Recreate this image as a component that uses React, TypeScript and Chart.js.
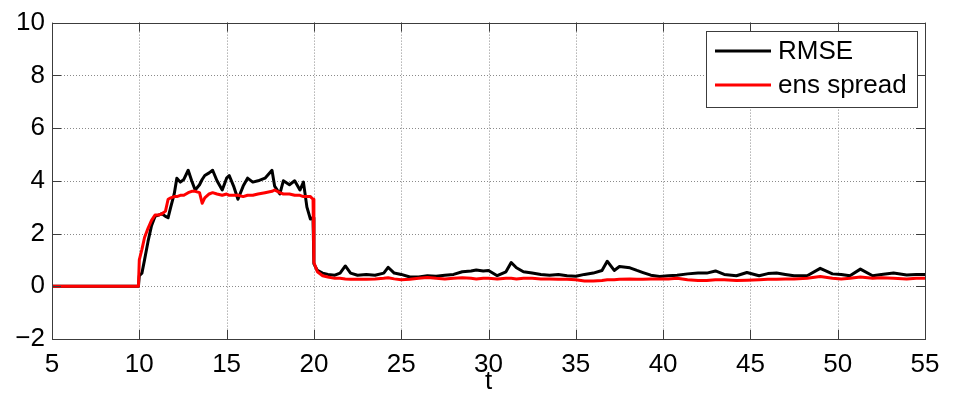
import React, { useEffect, useRef } from 'react';
import { Chart, registerables } from 'chart.js';

Chart.register(...registerables);

const timeValues = [
  5, 9.95, 10.0, 10.15, 10.3, 10.5, 10.7, 10.9, 11.1, 11.3,
  11.5, 11.65, 11.8, 12.0, 12.15, 12.35, 12.55, 12.8, 13.0, 13.2,
  13.45, 13.6, 13.75, 14.0, 14.2, 14.45, 14.75, 15.0, 15.15, 15.4,
  15.65, 15.95, 16.2, 16.5, 16.8, 17.2, 17.6, 17.75, 18.05, 18.25,
  18.6, 18.9, 19.2, 19.4, 19.6, 19.8, 19.95, 20.0, 20.2, 20.5,
  20.8, 21.2, 21.5, 21.8, 22.1, 22.5, 23.0, 23.5, 24.0, 24.25,
  24.6, 25.0, 25.5, 26.0, 26.5, 27.0, 27.5, 28.0, 28.5, 29.0,
  29.3, 29.7, 30.0, 30.5, 31.0, 31.3, 31.6, 32.0, 32.5, 33.0,
  33.5, 34.0, 34.5, 35.0, 35.5, 36.0, 36.5, 36.8, 37.2, 37.5,
  38.1, 38.5, 38.85, 39.3, 39.8, 40.3, 40.8, 41.4, 42.0, 42.5,
  43.0, 43.5, 44.2, 44.8, 45.5, 46.0, 46.5, 47.0, 47.5, 48.25,
  49.0, 49.7, 50.2, 50.7, 51.3, 52.0, 52.5, 53.2, 53.95, 54.5,
  55.0,
];

const rmseValues = [
  0, 0, 0.4, 0.5, 1.0, 1.7, 2.3, 2.65, 2.7, 2.75,
  2.65, 2.6, 3.0, 3.5, 4.1, 3.95, 4.05, 4.4, 4.0, 3.65,
  3.85, 4.05, 4.2, 4.3, 4.4, 4.0, 3.65, 4.1, 4.2, 3.8,
  3.3, 3.8, 4.1, 3.95, 4.0, 4.1, 4.4, 3.8, 3.5, 4.0,
  3.85, 4.0, 3.65, 3.95, 3.0, 2.55, 2.6, 0.85, 0.6, 0.5,
  0.45, 0.42, 0.5, 0.77, 0.5, 0.42, 0.45, 0.42, 0.5, 0.72,
  0.5, 0.45, 0.35, 0.35, 0.4, 0.38, 0.42, 0.45, 0.55, 0.58,
  0.62, 0.58, 0.6, 0.4, 0.55, 0.9, 0.7, 0.55, 0.5, 0.45,
  0.42, 0.45, 0.4, 0.38, 0.45, 0.5, 0.6, 0.95, 0.6, 0.75,
  0.7, 0.6, 0.52, 0.42, 0.37, 0.4, 0.42, 0.47, 0.5, 0.5,
  0.58, 0.45, 0.4, 0.52, 0.4, 0.48, 0.5, 0.45, 0.4, 0.4,
  0.68, 0.47, 0.45, 0.4, 0.65, 0.4, 0.45, 0.5, 0.43, 0.45,
  0.45,
];

const spreadValues = [
  0, 0, 1.0, 1.4, 1.85, 2.2, 2.5, 2.7, 2.7, 2.75,
  2.85, 3.3, 3.35, 3.4, 3.4, 3.45, 3.45, 3.55, 3.6, 3.6,
  3.55, 3.15, 3.35, 3.5, 3.55, 3.5, 3.45, 3.5, 3.45, 3.45,
  3.45, 3.4, 3.45, 3.45, 3.5, 3.55, 3.6, 3.65, 3.55, 3.5,
  3.5, 3.45, 3.45, 3.4, 3.4, 3.4, 3.3, 0.9, 0.55, 0.4,
  0.35, 0.3, 0.3, 0.28, 0.27, 0.27, 0.27, 0.28, 0.3, 0.32,
  0.28, 0.25, 0.27, 0.3, 0.33, 0.3, 0.28, 0.3, 0.32, 0.3,
  0.28, 0.3, 0.3, 0.28, 0.3, 0.3, 0.28, 0.3, 0.3, 0.28,
  0.28, 0.27, 0.27, 0.25, 0.2, 0.2, 0.22, 0.25, 0.25, 0.27,
  0.28, 0.27, 0.27, 0.28, 0.28, 0.28, 0.3, 0.25, 0.22, 0.22,
  0.25, 0.25, 0.22, 0.23, 0.25, 0.27, 0.27, 0.28, 0.28, 0.3,
  0.37, 0.3, 0.28, 0.3, 0.35, 0.3, 0.32, 0.3, 0.28, 0.3,
  0.3,
];

const xTicks = [5, 10, 15, 20, 25, 30, 35, 40, 45, 50, 55];
const yTicks = [-2, 0, 2, 4, 6, 8, 10];
const seriesLabels = ['RMSE', 'ens spread'];
const seriesColors = ['#000000', '#ff0000'];
const xAxisTitle = 't';

const FONT = '"Liberation Sans", Arial, Helvetica, sans-serif';
const AXIS_COLOR = '#3c3c3c';

const matlabFrame = {
  id: 'matlabFrame',
  beforeDatasetsDraw(chart: any) {
    const { ctx, chartArea } = chart;
    const { left, right, top, bottom } = chartArea;
    const xs = chart.scales.x;
    const ys = chart.scales.y;
    ctx.save();
    ctx.strokeStyle = '#8a8a8a';
    ctx.lineWidth = 1;
    ctx.setLineDash([1, 2]);
    xTicks.forEach((v) => {
      const px = Math.round(xs.getPixelForValue(v)) + 0.5;
      if (px <= left + 1 || px >= right - 1) return;
      ctx.beginPath();
      ctx.moveTo(px, top);
      ctx.lineTo(px, bottom);
      ctx.stroke();
    });
    yTicks.forEach((v) => {
      const py = Math.round(ys.getPixelForValue(v)) + 0.5;
      if (py <= top + 1 || py >= bottom - 1) return;
      ctx.beginPath();
      ctx.moveTo(left, py);
      ctx.lineTo(right, py);
      ctx.stroke();
    });
    ctx.restore();
  },
  afterDatasetsDraw(chart: any) {
    const { ctx, chartArea } = chart;
    const { left, right, top, bottom } = chartArea;
    const xs = chart.scales.x;
    const ys = chart.scales.y;
    const tl = 9;
    ctx.save();
    ctx.setLineDash([]);
    ctx.strokeStyle = AXIS_COLOR;
    ctx.lineWidth = 1;
    ctx.strokeRect(Math.round(left) + 0.5, Math.round(top) + 0.5, Math.round(right - left), Math.round(bottom - top));
    ctx.beginPath();
    xTicks.forEach((v) => {
      const px = Math.round(xs.getPixelForValue(v)) + 0.5;
      ctx.moveTo(px, bottom);
      ctx.lineTo(px, bottom - tl);
      ctx.moveTo(px, top);
      ctx.lineTo(px, top + tl);
    });
    yTicks.forEach((v) => {
      const py = Math.round(ys.getPixelForValue(v)) + 0.5;
      ctx.moveTo(left, py);
      ctx.lineTo(left + tl, py);
      ctx.moveTo(right, py);
      ctx.lineTo(right - tl, py);
    });
    ctx.stroke();

    // legend box
    const bw = 211;
    const bh = 76;
    const bx = Math.round(right) - 8 - bw;
    const by = Math.round(top) + 8;
    ctx.fillStyle = '#ffffff';
    ctx.fillRect(bx, by, bw, bh);
    ctx.strokeStyle = AXIS_COLOR;
    ctx.strokeRect(bx + 0.5, by + 0.5, bw, bh);
    ctx.font = `26px ${FONT}`;
    ctx.textBaseline = 'middle';
    ctx.textAlign = 'left';
    seriesLabels.forEach((label, i) => {
      const cy = by + 20 + i * 34;
      ctx.strokeStyle = seriesColors[i];
      ctx.lineWidth = 3;
      ctx.beginPath();
      ctx.moveTo(bx + 9, cy);
      ctx.lineTo(bx + 65, cy);
      ctx.stroke();
      ctx.fillStyle = '#000000';
      ctx.fillText(label, bx + 72, cy + 1);
    });
    ctx.restore();
  },
};

export default function App() {
  const canvasRef = useRef<HTMLCanvasElement | null>(null);

  useEffect(() => {
    document.body.style.margin = '0';
    const canvas = canvasRef.current;
    if (!canvas) return;
    const makePoints = (vals: number[]) => timeValues.map((t, i) => ({ x: t, y: vals[i] }));
    const chart = new Chart(canvas, {
      type: 'line',
      data: {
        datasets: [
          {
            label: seriesLabels[0],
            data: makePoints(rmseValues),
            borderColor: seriesColors[0],
            backgroundColor: seriesColors[0],
            borderWidth: 3,
            pointRadius: 0,
            tension: 0,
            borderJoinStyle: 'round',
            order: 2,
          },
          {
            label: seriesLabels[1],
            data: makePoints(spreadValues),
            borderColor: seriesColors[1],
            backgroundColor: seriesColors[1],
            borderWidth: 3,
            pointRadius: 0,
            tension: 0,
            borderJoinStyle: 'round',
            order: 1,
          },
        ],
      },
      options: {
        responsive: false,
        animation: false,
        events: [],
        layout: { padding: { top: 19, right: 31, left: 0, bottom: 0 } },
        plugins: {
          legend: { display: false },
          tooltip: { enabled: false },
        },
        scales: {
          x: {
            type: 'linear',
            min: 5,
            max: 55,
            afterBuildTicks: (scale: any) => {
              scale.ticks = xTicks.map((v) => ({ value: v }));
            },
            afterFit: (scale: any) => {
              scale.height = 66;
            },
            grid: { display: false, drawTicks: false },
            border: { display: false },
            ticks: {
              padding: 10,
              color: '#000000',
              font: { family: FONT, size: 26 },
              maxRotation: 0,
              autoSkip: false,
            },
            title: {
              display: true,
              text: xAxisTitle,
              color: '#000000',
              font: { family: FONT, size: 26 },
              padding: { top: 0, bottom: 8 },
            },
          },
          y: {
            type: 'linear',
            min: -2,
            max: 10,
            afterBuildTicks: (scale: any) => {
              scale.ticks = yTicks.map((v) => ({ value: v }));
            },
            afterFit: (scale: any) => {
              scale.width = 52;
            },
            grid: { display: false, drawTicks: false },
            border: { display: false },
            ticks: {
              padding: 7,
              color: '#000000',
              font: { family: FONT, size: 26 },
              autoSkip: false,
              callback: (v: any) => (Number(v) < 0 ? '\u2212' + Math.abs(Number(v)) : String(v)),
            },
          },
        },
      },
      plugins: [matlabFrame],
    });
    return () => chart.destroy();
  }, []);

  return (
    <div style={{ width: 956, height: 405, background: '#ffffff' }}>
      <canvas ref={canvasRef} width={956} height={405} style={{ display: 'block' }} />
    </div>
  );
}
